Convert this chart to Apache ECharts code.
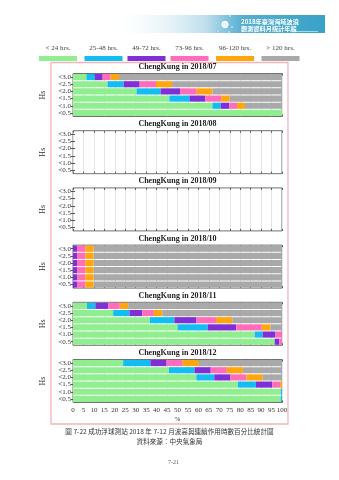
<!DOCTYPE html>
<html><head><meta charset="utf-8">
<script src="https://cdn.jsdelivr.net/npm/echarts@6/dist/echarts.min.js"></script>
<style>html,body{margin:0;padding:0;background:#fff}#c{width:339px;height:480px}</style>
</head><body><div id="c"></div>
<script>
// ---- data ----
const hsLabels = ['<3.0', '<2.5', '<2.0', '<1.5', '<1.0', '<0.5'];
const durations = ['< 24 hrs.', '25-48 hrs.', '49-72 hrs.', '73-96 hrs.', '96-120 hrs.', '> 120 hrs.'];
const months = ['2018/07', '2018/08', '2018/09', '2018/10', '2018/11', '2018/12'];
const xTicks = [0, 5, 10, 15, 20, 25, 30, 35, 40, 45, 50, 55, 60, 65, 70, 75, 80, 85, 90, 95, 100];

// values in %, rows ordered <3.0 ... <0.5
const jul_h24  = [6.4, 16.5, 30.4, 46.1, 66.7, 100];
const jul_h48  = [4.0, 7.7, 11.5, 9.6, 4.0, 0];
const jul_h72  = [3.8, 7.7, 9.3, 7.7, 4.0, 0];
const jul_h96  = [3.8, 7.8, 8.0, 7.5, 3.8, 0];
const jul_h120 = [4.0, 7.7, 7.5, 4.0, 3.8, 0];
const jul_hgt  = [78.0, 52.6, 33.3, 25.1, 17.7, 0];

const aug_h24  = [];
const aug_h48  = [];
const aug_h72  = [];
const aug_h96  = [];
const aug_h120 = [];
const aug_hgt  = [];

const sep_h24  = [];
const sep_h48  = [];
const sep_h72  = [];
const sep_h96  = [];
const sep_h120 = [];
const sep_hgt  = [];

const oct_h24  = [0, 0, 0, 0, 0, 0];
const oct_h48  = [0, 0, 0, 0, 0, 0];
const oct_h72  = [1.9, 1.9, 1.9, 1.9, 1.9, 1.9];
const oct_h96  = [4.0, 4.0, 4.0, 4.0, 4.0, 4.0];
const oct_h120 = [4.0, 4.0, 4.0, 4.0, 4.0, 4.0];
const oct_hgt  = [90.1, 90.1, 90.1, 90.1, 90.1, 90.1];

const nov_h24  = [6.7, 19.2, 36.8, 50.1, 86.9, 96.5];
const nov_h48  = [4.0, 7.8, 11.7, 14.4, 3.8, 0];
const nov_h72  = [6.1, 6.1, 10.6, 13.6, 6.2, 2.2];
const nov_h96  = [5.6, 5.6, 9.3, 12.2, 3.1, 1.3];
const nov_h120 = [4.0, 4.0, 7.8, 4.2, 0, 0];
const nov_hgt  = [73.6, 57.3, 23.8, 5.5, 0, 0];

const dec_h24  = [24.0, 45.9, 59.0, 78.9, 99.4, 99.4];
const dec_h48  = [13.0, 12.2, 8.6, 8.6, 0.6, 0.6];
const dec_h72  = [7.8, 7.8, 7.7, 7.8, 0, 0];
const dec_h96  = [7.7, 7.7, 7.7, 3.8, 0, 0];
const dec_h120 = [7.7, 7.7, 7.8, 0.9, 0, 0];
const dec_hgt  = [39.8, 18.7, 9.2, 0, 0, 0];

const monthData = [
  [jul_h24, jul_h48, jul_h72, jul_h96, jul_h120, jul_hgt],
  [aug_h24, aug_h48, aug_h72, aug_h96, aug_h120, aug_hgt],
  [sep_h24, sep_h48, sep_h72, sep_h96, sep_h120, sep_hgt],
  [oct_h24, oct_h48, oct_h72, oct_h96, oct_h120, oct_hgt],
  [nov_h24, nov_h48, nov_h72, nov_h96, nov_h120, nov_hgt],
  [dec_h24, dec_h48, dec_h72, dec_h96, dec_h120, dec_hgt]
];

// ---- styles ----
const colors = ['#90ee90', '#12bdf2', '#7e2fd6', '#ff6cbc', '#ffa60d', '#a9a9a9'];
const serif = 'Liberation Serif';
const gridLeft = 73, gridWidth = 209, gridH = 43, top0 = 73.5, pitch = 57.2;

const grids = [], xAxes = [], yAxes = [], titles = [], series = [];
months.forEach((m, i) => {
  const top = top0 + i * pitch;
  const last = i === months.length - 1;
  grids.push({left: gridLeft, top: top, width: gridWidth, height: gridH, show: true,
    borderColor: '#707070', borderWidth: 1, backgroundColor: 'transparent'});
  titles.push({text: 'ChengKung in ' + m, left: gridLeft + gridWidth / 2, textAlign: 'center',
    top: top - 10.5, padding: 0, textStyle: {fontFamily: serif, fontWeight: 'bold', fontSize: 8, color: '#222'}});
  xAxes.push({gridIndex: i, type: 'value', min: 0, max: 100, interval: 5, position: 'bottom',
    axisLine: {show: false}, axisTick: {show: true, inside: true, length: 2, lineStyle: {color: '#555'}},
    splitLine: {show: true, lineStyle: {color: '#e4e4e4', width: 1}},
    axisLabel: {show: last, fontFamily: serif, fontSize: 7, color: '#333', margin: 4,
      formatter: v => (xTicks.indexOf(v) >= 0 ? String(v) : '')},
    name: last ? '%' : '', nameLocation: 'middle', nameGap: 13,
    nameTextStyle: {fontFamily: serif, fontSize: 7, color: '#333'}});
  yAxes.push({gridIndex: i, type: 'category', data: hsLabels, inverse: true, position: 'left',
    axisLine: {show: false}, axisTick: {show: true, inside: true, length: 2, alignWithLabel: true, interval: 0, lineStyle: {color: '#555'}},
    splitLine: {show: false},
    axisLabel: {interval: 0, fontFamily: serif, fontSize: 7, color: '#333', margin: 2},
    name: 'Hs', nameLocation: 'middle', nameRotate: 90, nameGap: 16,
    nameTextStyle: {fontFamily: serif, fontSize: 8, color: '#333'}});
  monthData[i].forEach((arr, k) => {
    series.push({type: 'bar', name: durations[k], stack: 's' + i, xAxisIndex: i, yAxisIndex: i,
      data: arr, barCategoryGap: '14%', itemStyle: {color: colors[k]}, silent: true, animation: false});
  });
});
// secondary axes for top / right tick marks
months.forEach((m, i) => {
  xAxes.push({gridIndex: i, type: 'value', min: 0, max: 100, interval: 5, position: 'top',
    axisLine: {show: false}, axisTick: {show: true, inside: true, length: 2, lineStyle: {color: '#555'}},
    splitLine: {show: false}, axisLabel: {show: false}});
  yAxes.push({gridIndex: i, type: 'category', data: hsLabels, inverse: true, position: 'right',
    axisLine: {show: false}, axisTick: {show: true, inside: true, length: 2, alignWithLabel: true, interval: 0, lineStyle: {color: '#555'}},
    splitLine: {show: false}, axisLabel: {show: false}});
});

// legend (label above swatch)
const legendCenters = [58, 103.5, 146.5, 189.5, 235, 280.5];
const graphics = [];
durations.forEach((d, k) => {
  graphics.push({type: 'text', x: legendCenters[k], y: 48, z: 10,
    style: {text: d, align: 'center', verticalAlign: 'middle', font: '7px "Liberation Serif"', fill: '#444'}});
  graphics.push({type: 'rect', shape: {x: legendCenters[k] - 19, y: 56, width: 38, height: 5},
    style: {fill: colors[k]}});
});
// pink frame
graphics.push({type: 'rect', shape: {x: 51, y: 62.5, width: 237, height: 361.5},
  style: {fill: 'none', stroke: '#f2b5ba', lineWidth: 1.3}, z: 0});
// header banner
graphics.push({type: 'rect', shape: {x: 108, y: 15, width: 217, height: 18},
  style: {fill: new echarts.graphic.LinearGradient(0, 0, 1, 0, [
    {offset: 0, color: 'rgba(255,255,255,0)'}, {offset: 0.45, color: '#bfdfec'},
    {offset: 0.62, color: '#55aed0'}, {offset: 1, color: '#3aa2c8'}])}});
graphics.push({type: 'text', x: 241, y: 21.5, style: {text: '2018年臺灣海域波浪', verticalAlign: 'middle', font: 'bold 6.2px "Noto Sans CJK TC"', fill: '#fff'}});
graphics.push({type: 'text', x: 241, y: 28.5, style: {text: '觀測資料月統計年報', verticalAlign: 'middle', font: 'bold 6.2px "Noto Sans CJK TC"', fill: '#fff'}});
graphics.push({type: 'line', shape: {x1: 290, y1: 31.5, x2: 318, y2: 31.5}, style: {stroke: '#dff', lineWidth: 0.6}});
graphics.push({type: 'circle', shape: {cx: 225, cy: 24.5, r: 3.2}, style: {fill: '#e8f6fb', stroke: '#fff'}});
[[216, 23], [230, 16], [232, 27], [218, 31], [229, 32]].forEach(p => {
  graphics.push({type: 'circle', shape: {cx: p[0], cy: p[1], r: 1.1}, style: {fill: '#fff', stroke: '#4aa8cc', lineWidth: 0.4}});
});
// caption
graphics.push({type: 'text', x: 169.5, y: 431.5, style: {text: '圖 7-22 成功浮球測站 2018 年 7-12 月波高與連續作用時數百分比統計圖', align: 'center', verticalAlign: 'middle', font: '6.6px "Noto Sans CJK TC"', fill: '#333'}});
graphics.push({type: 'text', x: 169.5, y: 441.5, style: {text: '資料來源：中央氣象局', align: 'center', verticalAlign: 'middle', font: '6.6px "Noto Sans CJK TC"', fill: '#333'}});
graphics.push({type: 'text', x: 173.5, y: 462.5, style: {text: '7-21', align: 'center', verticalAlign: 'middle', font: '6px "Liberation Serif"', fill: '#555'}});

const chart = echarts.init(document.getElementById('c'), null, {renderer: 'canvas'});
chart.setOption({
  animation: false,
  backgroundColor: '#fff',
  title: titles,
  grid: grids,
  xAxis: xAxes,
  yAxis: yAxes,
  series: series,
  graphic: graphics
});
</script></body></html>
